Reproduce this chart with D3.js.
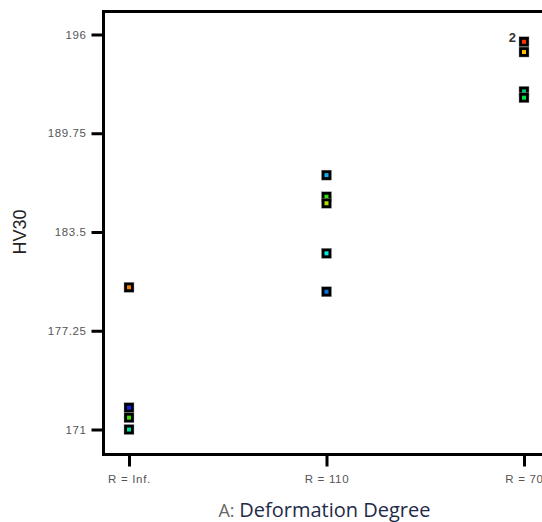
<!DOCTYPE html>
<html>
<head>
<meta charset="utf-8">
<script src="https://cdn.jsdelivr.net/npm/d3@7"></script>
<style>
  html, body { margin: 0; padding: 0; background: #fff; }
  svg { display: block; }
</style>
</head>
<body>
<svg id="chart" width="542" height="522"></svg>
<script>
// ---- data ----
const categories = ["R = Inf.", "R = 110", "R = 70"];
const yTicks = [171, 177.25, 183.5, 189.75, 196];
const pointCategory = ["R = Inf.", "R = Inf.", "R = Inf.", "R = Inf.",
                       "R = 110", "R = 110", "R = 110", "R = 110", "R = 110",
                       "R = 70", "R = 70", "R = 70", "R = 70"];
const hv30Values = [180.0, 172.38, 171.75, 171.0,
                    187.1, 185.73, 185.32, 182.15, 179.72,
                    195.54, 194.89, 192.4, 192.0];
const markerColors = ["#f08000", "#1020e8", "#40e000", "#00e0a0",
                      "#10b0f0", "#30e800", "#b0e000", "#00f0e0", "#1070e8",
                      "#ff3000", "#ffc000", "#00c070", "#00e040"];
const pointLabels = [{ category: "R = 70", value: 195.54, text: "2" }];
const xTitlePrefix = "A: ";
const xTitleMain = "Deformation Degree";
const yTitle = "HV30";

// ---- layout ----
const svg = d3.select("#chart");
const frame = { left: 103.5, top: 11.5, right: 552, bottom: 454.5 };

const x = d3.scalePoint().domain(categories).range([129, 524]);
const y = d3.scaleLinear().domain([171, 196]).range([429.5, 34.5]);

// frame
svg.append("rect")
  .attr("x", frame.left).attr("y", frame.top)
  .attr("width", frame.right - frame.left)
  .attr("height", frame.bottom - frame.top)
  .attr("fill", "none").attr("stroke", "#000").attr("stroke-width", 3);

// y axis
const yAxis = d3.axisLeft(y).tickValues(yTicks).tickSize(12).tickPadding(5)
  .tickFormat(d => String(d));
const gy = svg.append("g").attr("transform", `translate(${frame.left},0)`).call(yAxis);
gy.select(".domain").remove();
gy.selectAll(".tick line").attr("stroke", "#000").attr("stroke-width", 3);
gy.selectAll(".tick text")
  .attr("font-family", "Liberation Sans, Arial, sans-serif")
  .attr("font-size", 11.5).attr("letter-spacing", 0.6).attr("fill", "#555");

// x axis
const xAxis = d3.axisBottom(x).tickSize(12).tickPadding(8);
const gx = svg.append("g").attr("transform", `translate(0,${frame.bottom})`).call(xAxis);
gx.select(".domain").remove();
gx.selectAll(".tick line").attr("stroke", "#000").attr("stroke-width", 3);
gx.selectAll(".tick text")
  .attr("font-family", "Liberation Sans, Arial, sans-serif")
  .attr("font-size", 11.5).attr("letter-spacing", 0.7).attr("fill", "#555");

// y title
svg.append("text")
  .attr("transform", `translate(26,${(y(171) + y(196)) / 2}) rotate(-90)`)
  .attr("text-anchor", "middle")
  .attr("font-family", "Liberation Sans, Arial, sans-serif")
  .attr("font-size", 18).attr("fill", "#222")
  .text(yTitle);

// x title
const xt = svg.append("text")
  .attr("x", x("R = 110") - 2).attr("y", 517)
  .attr("text-anchor", "middle")
  .attr("font-family", "Open Sans, Noto Sans, sans-serif")
  .attr("font-size", 20);
xt.append("tspan").attr("fill", "#666").attr("font-size", 18).text(xTitlePrefix);
xt.append("tspan").attr("fill", "#1f2a48").text(xTitleMain);

// points
const pts = pointCategory.map((c, i) => ({ c, v: hv30Values[i], col: markerColors[i] }));
const g = svg.append("g");
const mk = g.selectAll("g.pt").data(pts).join("g").attr("class", "pt")
  .attr("transform", d => `translate(${x(d.c)},${y(d.v)})`);
mk.append("rect").attr("x", -5).attr("y", -5).attr("width", 10).attr("height", 10)
  .attr("fill", "#000").attr("stroke", "#999").attr("stroke-width", 0.4);
mk.append("rect").attr("x", -2).attr("y", -2).attr("width", 4).attr("height", 4)
  .attr("fill", d => d.col);

// point labels
svg.selectAll("text.plabel").data(pointLabels).join("text").attr("class", "plabel")
  .attr("x", d => x(d.category) - 8).attr("y", d => y(d.value) + 0)
  .attr("text-anchor", "end")
  .attr("font-family", "Liberation Sans, Arial, sans-serif")
  .attr("font-weight", "bold").attr("font-size", 13).attr("fill", "#333")
  .text(d => d.text);
</script>
</body>
</html>
